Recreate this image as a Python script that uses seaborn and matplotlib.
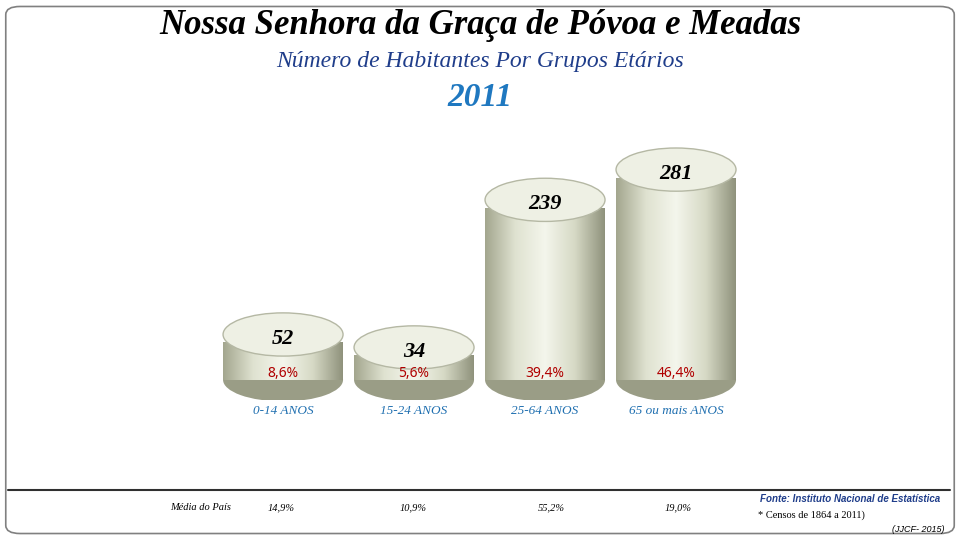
import numpy as np
import pandas as pd
import matplotlib.pyplot as plt
import seaborn as sns
from matplotlib.patches import Ellipse, FancyBboxPatch
from matplotlib.colors import LinearSegmentedColormap

grupos = ['0-14 ANOS', '15-24 ANOS', '25-64 ANOS', '65 ou mais ANOS']
habitantes = [52, 34, 239, 281]
percent = ['8,6%', '5,6%', '39,4%', '46,4%']
media_pais = ['14,9%', '10,9%', '55,2%', '19,0%']

sns.set_style('white')
plt.rcParams['font.family'] = ['Liberation Serif', 'DejaVu Serif']
plt.rcParams['text.color'] = 'black'

fig = plt.figure(figsize=(9.6, 5.4), dpi=100)
fig.add_artist(FancyBboxPatch((0.006, 0.012), 0.988, 0.976, boxstyle='round,pad=0,rounding_size=0.015',
                              transform=fig.transFigure, fc='none', ec='#808080', lw=1.2, zorder=-1))
ax = fig.add_axes([200/960, 1-400/540, 560/960, 270/540])
ax.set_axis_off()

base = -11
df = pd.DataFrame({'grupo': grupos, 'hab': habitantes})
sns.barplot(data=df, x='grupo', y='hab', ax=ax, width=0.916, color='#cfd2bf',
            bottom=base, linewidth=0, zorder=2)
ax.set_xlim(-0.634, 3.641)
ax.set_ylim(-39, 336)

cmap = LinearSegmentedColormap.from_list('cyl', ['#a3a68e', '#dfe2d0', '#f4f6ec', '#d6d9c5', '#8f927c'])
grad = np.linspace(0, 1, 256).reshape(1, -1)
eh = 60
for i, p in enumerate(ax.patches[:len(habitantes)]):
    x0, w = p.get_x(), p.get_width()
    top = habitantes[i]
    im = ax.imshow(grad, cmap=cmap, aspect='auto', extent=[x0, x0 + w, base, top], zorder=2)
    im.set_clip_path(p)
    ax.add_patch(Ellipse((x0 + w/2, base), w, eh, fc='#9a9d86', ec='none', zorder=1))
    ax.add_patch(Ellipse((x0 + w/2, top), w, eh, fc='#eef0e4', ec='#b5b8a4', lw=1, zorder=3))
    ax.text(x0 + w/2, top - 6, str(top), ha='center', va='center', fontsize=16,
            fontweight='bold', style='italic', zorder=4)
    ax.text(x0 + w/2, base + 9, percent[i], ha='center', va='center', fontsize=10,
            color='#b00000', family=['Noto Sans', 'DejaVu Sans'], zorder=4)
ax.set_xlim(-0.634, 3.641)
ax.set_ylim(-39, 336)

xc = [283, 414, 545, 676]
for i in range(4):
    fig.text(xc[i]/960, 1-411/540, grupos[i], ha='center', va='center', fontsize=9.5,
             style='italic', color='#1f6fb0')

fig.text(0.5, 1-26/540, 'Nossa Senhora da Graça de Póvoa e Meadas', ha='center', va='center',
         fontsize=25, fontweight='bold', style='italic', color='black')
fig.text(0.5, 1-61/540, 'Número de Habitantes Por Grupos Etários', ha='center', va='center',
         fontsize=17, style='italic', color='#1f3d8a')
fig.text(0.5, 1-97/540, '2011', ha='center', va='center', fontsize=24, fontweight='bold',
         style='italic', color='#1f78c0')

fig.add_artist(plt.Line2D([0.008, 0.99], [1-490/540, 1-490/540], color='#303030', lw=1.5,
                          transform=fig.transFigure))
fig.text(170/960, 1-508/540, 'Média do País', fontsize=7.5, style='italic', va='center')
for x, m in zip([268, 400, 538, 665], media_pais):
    fig.text(x/960, 1-508/540, m, fontsize=7.5, style='italic', va='center')
fig.text(760/960, 1-499/540, 'Fonte: Instituto Nacional de Estatística', fontsize=7,
         fontweight='bold', style='italic', color='#1f3d8a', va='center',
         family=['Liberation Sans', 'DejaVu Sans'])
fig.text(758/960, 1-515/540, '* Censos de 1864 a 2011)', fontsize=7.5, va='center')
fig.text(945/960, 1-530/540, '(JJCF- 2015)', fontsize=6.5, style='italic', ha='right', va='center',
         family=['Liberation Sans', 'DejaVu Sans'])

fig.savefig('out.png', dpi=100)
